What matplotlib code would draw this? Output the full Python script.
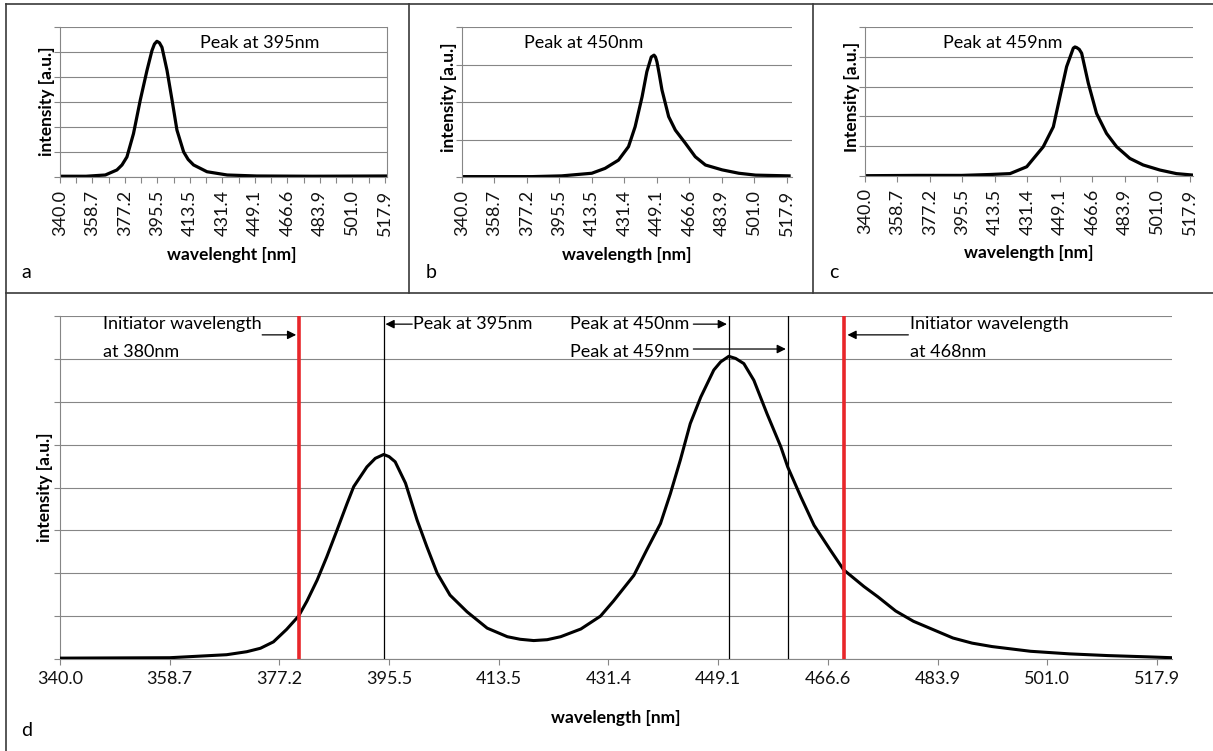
import numpy as np
import matplotlib
matplotlib.use('Agg')
import matplotlib.pyplot as plt
from matplotlib.lines import Line2D

plt.rcParams['font.family'] = ['Lato', 'DejaVu Sans']

# ------------------------------------------------------------
# Data
# ------------------------------------------------------------
# x axis is a channel axis: labels every N channels, equally spaced
tick_wl = [340.0, 358.7, 377.2, 395.5, 413.5, 431.4, 449.1, 466.6, 483.9, 501.0, 517.9]
tick_labels = ['340.0', '358.7', '377.2', '395.5', '413.5', '431.4',
               '449.1', '466.6', '483.9', '501.0', '517.9']

# a - single emission, peak at 395 nm
a_wl = [340.0, 355.0, 366.0, 372.6, 375.5, 378.3, 382.0, 385.8, 389.6, 392.4,
        393.8, 395.2, 396.6, 398.0, 400.8, 403.6, 406.3, 410.0, 412.5, 415.5,
        422.9, 434.0, 450.0, 480.0, 519.0]
a_int = [0.03, 0.03, 0.08, 0.28, 0.48, 0.80, 1.73, 3.06, 4.25, 5.04,
         5.30, 5.41, 5.35, 5.17, 4.25, 3.06, 1.87, 1.00, 0.70, 0.48,
         0.21, 0.08, 0.04, 0.03, 0.04]

# b - single emission, peak at 450 nm
b_wl = [340.0, 380.0, 396.7, 413.4, 420.7, 428.1, 433.6, 437.2, 441.0, 443.6,
        446.0, 447.5, 448.3, 449.1, 450.3, 451.8, 455.4, 459.0, 464.4, 469.7,
        475.1, 484.0, 492.8, 501.6, 519.0]
b_int = [0.01, 0.01, 0.03, 0.10, 0.23, 0.45, 0.81, 1.34, 2.14, 2.81,
         3.20, 3.25, 3.20, 3.07, 2.75, 2.32, 1.61, 1.25, 0.90, 0.54,
         0.32, 0.19, 0.10, 0.05, 0.03]

# c - single emission, peak at 459 nm
c_wl = [340.0, 370.0, 395.0, 410.7, 421.8, 431.0, 440.0, 445.5, 449.1, 452.7,
        456.3, 457.2, 458.1, 459.5, 460.8, 464.4, 468.8, 474.1, 479.5, 486.5,
        493.5, 502.3, 510.9, 519.6]
c_int = [0.01, 0.02, 0.02, 0.05, 0.08, 0.31, 0.98, 1.65, 2.66, 3.67,
         4.29, 4.33, 4.31, 4.25, 4.12, 3.11, 2.10, 1.43, 0.98, 0.59,
         0.37, 0.20, 0.08, 0.03]

# d - two-colour emission
d_wl = [340.0, 358.7, 368.3, 371.7, 374.0, 376.2, 378.4, 380.4, 381.8, 383.5,
        385.1, 386.8, 388.5, 389.6, 391.8, 393.2, 394.6, 395.5, 396.5, 398.2,
        400.1, 401.7, 403.4, 405.5, 408.3, 411.6, 414.9, 417.0, 419.2, 421.4,
        423.6, 426.9, 430.1, 432.2, 435.5, 437.6, 439.8, 441.4, 443.0, 444.6,
        446.3, 448.4, 449.5, 450.8, 451.9, 453.2, 454.8, 456.9, 459.1, 460.2,
        462.3, 464.4, 467.0, 469.1, 472.3, 474.5, 477.3, 480.1, 486.3, 489.3,
        492.4, 498.4, 504.4, 510.3, 516.5, 520.2]
d_int = [0.02, 0.03, 0.10, 0.17, 0.25, 0.40, 0.69, 1.00, 1.35, 1.84,
         2.38, 3.00, 3.63, 4.02, 4.48, 4.68, 4.77, 4.72, 4.60, 4.10,
         3.24, 2.62, 2.00, 1.49, 1.10, 0.72, 0.52, 0.46, 0.43, 0.45,
         0.52, 0.70, 1.00, 1.35, 1.95, 2.55, 3.16, 3.86, 4.64, 5.49,
         6.11, 6.74, 6.93, 7.06, 7.01, 6.89, 6.50, 5.72, 4.95, 4.48,
         3.78, 3.12, 2.54, 2.08, 1.69, 1.45, 1.12, 0.88, 0.49, 0.37,
         0.29, 0.18, 0.12, 0.08, 0.05, 0.03]

initiator_wl = [380.4, 469.2]
peak_wl = [394.6, 450.8, 460.2]

W, H = 1213, 751
GRID = '#868686'

# channel scale: wavelength -> label position
idx_wl = [321.1] + tick_wl + [534.6]
idx_pos = np.arange(-1, len(tick_wl) + 1)


def fwd(x):
    return np.interp(x, idx_wl, idx_pos)


def inv(i):
    return np.interp(i, idx_pos, idx_wl)


def box(l, t, r, b):
    return [l / W, 1 - b / H, (r - l) / W, (b - t) / H]


def setup(ax, ymax, xmax, rotate):
    ax.set_xscale('function', functions=(fwd, inv))
    ax.set_xlim(340.0, xmax)
    ax.set_ylim(0, ymax)
    ax.set_xticks(tick_wl)
    ax.set_xticklabels(tick_labels, rotation=90 if rotate else 0)
    ax.set_yticks(range(ymax + 1))
    ax.set_yticklabels([])
    ax.grid(axis='y', color=GRID, lw=0.8)
    ax.set_axisbelow(True)
    for s in ['top', 'right']:
        ax.spines[s].set_visible(False)
    for s in ['left', 'bottom']:
        ax.spines[s].set_color(GRID)
        ax.spines[s].set_linewidth(0.8)
    ax.tick_params(direction='out', length=4, width=0.8, color=GRID,
                   labelsize=13, labelcolor='#111111', pad=5)


fig = plt.figure(figsize=(W / 100, H / 100), dpi=100)

# ------------------------------------------------------------
# Small panels a, b, c
# ------------------------------------------------------------
small = [
    ('a', box(60, 26.5, 387, 177), a_wl, a_int, 6, 519.0, 'Peak at 395nm', 'intensity [a.u.]', 'wavelenght [nm]'),
    ('b', box(462, 27, 792, 177), b_wl, b_int, 4, 520.5, 'Peak at 450nm', 'intensity [a.u.]', 'wavelength [nm]'),
    ('c', box(865, 27, 1193, 176), c_wl, c_int, 5, 519.5, 'Peak at 459nm', 'Intensity [a.u.]', 'wavelength [nm]'),
]
peak_text_x = {'a': 419.0, 'b': 375.6, 'c': 384.5}

for name, pos, wl, inten, ymax, xmax, ptxt, ylab, xlab in small:
    ax = fig.add_axes(pos)
    setup(ax, ymax, xmax, True)
    ax.plot(wl, inten, color='black', lw=2.3, solid_joinstyle='round')
    if name == 'a':
        ax.spines['right'].set_visible(True)
        ax.spines['right'].set_color(GRID)
        ax.set_xticks(inv(np.arange(0.5, 10, 1.0)), minor=True)
        ax.tick_params(which='minor', direction='out', length=4, width=0.8, color=GRID)
    ax.text(peak_text_x[name], ymax - (43 - 26.5) / (150 / ymax), ptxt,
            fontsize=13, va='center', ha='left')
    ax.set_ylabel(ylab, fontsize=12.5, fontweight='bold', va='center')
    ax.yaxis.set_label_coords(-0.04, 0.5 if name == 'a' else 0.53)
    ax.set_xlabel(xlab, fontsize=12.5, fontweight='bold', va='center')
    ax.xaxis.set_label_coords(0.525 if name == 'a' else 0.5, -(255 - 177) / 150)

# ------------------------------------------------------------
# Big panel d
# ------------------------------------------------------------
ax = fig.add_axes(box(60, 316, 1172, 659))
setup(ax, 8, 520.2, False)
ax.plot(d_wl, d_int, color='black', lw=2.2, solid_joinstyle='round', zorder=3)
for w in peak_wl:
    ax.axvline(w, color='black', lw=0.9, zorder=4)
for w in initiator_wl:
    ax.axvline(w, color='#e8262a', lw=2.6, zorder=5)
ax.set_ylabel('intensity [a.u.]', fontsize=12.5, fontweight='bold', va='center')
ax.yaxis.set_label_coords(-0.0135, 0.5)
ax.set_xlabel('wavelength [nm]', fontsize=12.5, fontweight='bold', va='center')
ax.xaxis.set_label_coords(0.5, -0.172)

arr = dict(arrowstyle='-|>', mutation_scale=13, lw=0.9, color='black',
           shrinkA=0, shrinkB=0)
fs = 13
# left initiator
ax.text(347.3, 7.81, 'Initiator wavelength', fontsize=fs, va='center')
ax.text(347.3, 7.16, 'at 380nm', fontsize=fs, va='center')
ax.annotate('', xy=(initiator_wl[0] - 0.4, 7.56), xytext=(374.3, 7.56), arrowprops=arr)
# peak 395
ax.annotate('', xy=(peak_wl[0] + 0.3, 7.81), xytext=(399.3, 7.81), arrowprops=arr)
ax.text(399.5, 7.81, 'Peak at 395nm', fontsize=fs, va='center')
# peak 450 / 459
ax.text(425.2, 7.81, 'Peak at 450nm', fontsize=fs, va='center')
ax.annotate('', xy=(peak_wl[1] - 0.3, 7.81), xytext=(445.1, 7.81), arrowprops=arr)
ax.text(425.2, 7.16, 'Peak at 459nm', fontsize=fs, va='center')
ax.annotate('', xy=(peak_wl[2] - 0.3, 7.23), xytext=(445.1, 7.23), arrowprops=arr)
# right initiator
ax.annotate('', xy=(initiator_wl[1] + 0.5, 7.56), xytext=(479.3, 7.56), arrowprops=arr)
ax.text(479.5, 7.81, 'Initiator wavelength', fontsize=fs, va='center')
ax.text(479.5, 7.16, 'at 468nm', fontsize=fs, va='center')

# ------------------------------------------------------------
# Table borders and panel letters
# ------------------------------------------------------------
BORDER = '#3a3a3a'


def hline(y, x0, x1):
    fig.add_artist(Line2D([x0 / W, x1 / W], [1 - y / H, 1 - y / H], color=BORDER, lw=1.2))


def vline(x, y0, y1):
    fig.add_artist(Line2D([x / W, x / W], [1 - y0 / H, 1 - y1 / H], color=BORDER, lw=1.2))


hline(4, 6, W)
hline(292.5, 6, W)
vline(6, 4, H)
vline(409, 4, 292.5)
vline(812.5, 4, 292.5)

for letter, (px, py) in zip('abcd', [(26, 272), (431, 272), (834, 272), (27, 731)]):
    fig.text(px / W, 1 - py / H, letter, fontsize=14, ha='center', va='center')

fig.savefig('out.png', dpi=100)
